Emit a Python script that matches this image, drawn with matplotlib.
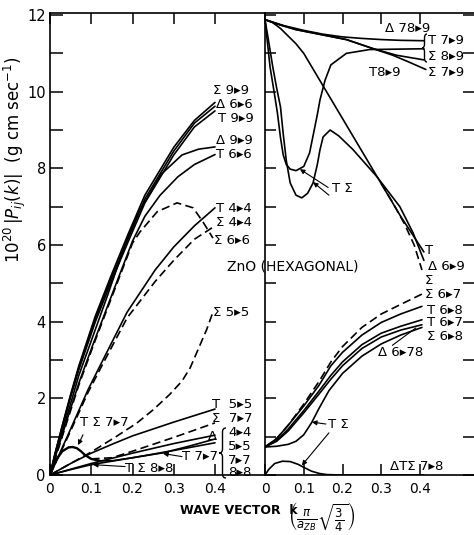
import matplotlib
matplotlib.use('Agg')
import matplotlib.pyplot as plt
from matplotlib.path import Path
from matplotlib.patches import PathPatch

plt.rcParams['font.family'] = ['DejaVu Sans']
plt.rcParams['mathtext.fontset'] = 'dejavusans'

# ---------------- data : left panel ----------------
up_x = [0, 0.012, 0.03, 0.05, 0.07, 0.11, 0.15, 0.19, 0.23, 0.30, 0.35, 0.40]
sig99_y = [0, 0.55, 1.30, 2.10, 2.85, 4.15, 5.25, 6.30, 7.30, 8.55, 9.25, 9.72]
del66_y = [0, 0.54, 1.28, 2.07, 2.80, 4.08, 5.17, 6.20, 7.20, 8.45, 9.18, 9.62]
t99_y = [0, 0.53, 1.25, 2.03, 2.75, 4.00, 5.08, 6.10, 7.10, 8.35, 9.08, 9.50]

del99_x = [0, 0.015, 0.04, 0.07, 0.10, 0.14, 0.18, 0.215, 0.27, 0.32, 0.36, 0.40]
del99_y = [0, 0.60, 1.50, 2.60, 3.50, 4.70, 5.95, 6.85, 7.85, 8.35, 8.50, 8.56]

t66_x = [0, 0.015, 0.04, 0.07, 0.104, 0.15, 0.20, 0.23, 0.267, 0.31, 0.35, 0.40]
t66_y = [0, 0.55, 1.40, 2.40, 3.40, 4.70, 6.10, 6.75, 7.30, 7.78, 8.10, 8.36]

sig66_x = [0, 0.015, 0.04, 0.07, 0.104, 0.15, 0.20, 0.218, 0.26, 0.308, 0.347, 0.371, 0.395]
sig66_y = [0, 0.50, 1.35, 2.35, 3.35, 4.65, 6.05, 6.34, 6.87, 7.10, 6.97, 6.60, 6.18]

t44_x = [0, 0.05, 0.092, 0.133, 0.187, 0.255, 0.30, 0.35, 0.40]
t44_y = [0, 1.20, 2.22, 3.10, 4.25, 5.35, 5.95, 6.50, 6.97]
sig44_y = [0, 1.15, 2.15, 3.00, 4.10, 5.05, 5.60, 6.15, 6.50]

sig55_x = [0, 0.05, 0.10, 0.16, 0.21, 0.25, 0.29, 0.32, 0.34, 0.36, 0.38, 0.395]
sig55_y = [0, 0.30, 0.60, 1.00, 1.35, 1.70, 2.10, 2.45, 2.80, 3.30, 3.80, 4.25]

t55_x = [0, 0.05, 0.10, 0.15, 0.20, 0.25, 0.30, 0.35, 0.40]
t55_y = [0, 0.30, 0.57, 0.80, 1.02, 1.20, 1.38, 1.55, 1.72]

ts77_x = [0, 0.015, 0.03, 0.045, 0.055, 0.065, 0.075, 0.085, 0.10, 0.12]
ts77_y = [0, 0.40, 0.62, 0.72, 0.73, 0.70, 0.62, 0.52, 0.42, 0.37]

sig77_x = [0.10, 0.15, 0.20, 0.25, 0.30, 0.35, 0.40]
sig77_y = [0.42, 0.45, 0.62, 0.80, 0.98, 1.17, 1.36]

t77_x = [0.12, 0.15, 0.20, 0.275, 0.34, 0.40]
t77_y = [0.37, 0.37, 0.45, 0.58, 0.76, 0.94]

del44_x = [0, 0.10, 0.20, 0.30, 0.40]
del44_y = [0, 0.30, 0.57, 0.82, 1.04]

ts88_x = [0, 0.05, 0.10, 0.15, 0.20, 0.30, 0.40]
ts88_y = [0, 0.14, 0.27, 0.36, 0.45, 0.64, 0.84]

# ---------------- data : right panel ----------------
a_x = [0, 0.05, 0.10, 0.15, 0.20, 0.25, 0.30, 0.35, 0.41]
a_y = [11.88, 11.72, 11.60, 11.50, 11.43, 11.39, 11.36, 11.34, 11.33]

b_x = [0, 0.04, 0.08, 0.14, 0.21, 0.28, 0.34, 0.41]
b_y = [11.88, 11.74, 11.62, 11.50, 11.36, 11.12, 10.95, 10.83]

b2_x = [0, 0.04, 0.08, 0.14, 0.21, 0.28, 0.33, 0.37, 0.415]
b2_y = [11.88, 11.74, 11.62, 11.50, 11.36, 11.12, 10.95, 10.78, 10.58]

e_x = [0, 0.004, 0.013, 0.025, 0.032, 0.04, 0.047, 0.055, 0.065, 0.08, 0.10,
       0.115, 0.125, 0.135, 0.142, 0.155, 0.17, 0.21, 0.27, 0.41]
e_y = [11.88, 11.5, 10.65, 9.9, 9.45, 8.8, 8.35, 8.1, 7.98, 7.94, 8.05,
       8.4, 8.9, 9.4, 9.79, 10.3, 10.7, 11.0, 11.1, 11.12]

f_x = [0, 0.008, 0.02, 0.03, 0.04, 0.047, 0.055, 0.065, 0.08, 0.095, 0.11, 0.124,
       0.135, 0.142, 0.15, 0.168, 0.19, 0.227, 0.289, 0.348, 0.382, 0.41]
f_y = [11.88, 11.4, 10.65, 10.1, 9.6, 8.9, 8.2, 7.62, 7.3, 7.23, 7.35, 7.62,
       8.1, 8.49, 8.82, 9.0, 8.85, 8.49, 7.78, 7.0, 6.32, 5.6]

g_x = [0, 0.02, 0.04, 0.06, 0.08, 0.10, 0.15, 0.20, 0.25, 0.30, 0.35, 0.41]
g_y = [11.88, 11.8, 11.65, 11.45, 11.25, 11.0, 10.15, 9.3, 8.45, 7.6, 6.75, 5.82]

s69_x = [0.30, 0.33, 0.36, 0.385, 0.405]
s69_y = [7.6, 7.1, 6.55, 6.0, 5.35]

low_x = [0, 0.03, 0.06, 0.10, 0.14, 0.17, 0.20, 0.25, 0.30, 0.35, 0.405]
s67_y = [0.73, 0.95, 1.30, 1.85, 2.45, 2.95, 3.35, 3.85, 4.20, 4.45, 4.72]
t68_y = [0.73, 0.95, 1.30, 1.80, 2.35, 2.85, 3.20, 3.65, 3.98, 4.20, 4.40]
t67_y = [0.73, 0.90, 1.20, 1.68, 2.20, 2.60, 2.95, 3.40, 3.70, 3.88, 4.05]
s68_y = [0.73, 0.88, 1.15, 1.62, 2.12, 2.50, 2.85, 3.30, 3.60, 3.78, 3.92]

knee_x = [0, 0.03, 0.06, 0.08, 0.10, 0.12, 0.14, 0.165, 0.20, 0.25, 0.30, 0.35, 0.405]
knee_y = [0.73, 0.75, 0.80, 0.88, 1.05, 1.36, 1.75, 2.20, 2.65, 3.10, 3.42, 3.65, 3.85]

hump_x = [0, 0.01, 0.025, 0.045, 0.065, 0.085, 0.10, 0.12, 0.14, 0.16, 0.20, 0.30, 0.41]
hump_y = [0, 0.15, 0.30, 0.36, 0.35, 0.28, 0.20, 0.10, 0.04, 0.01, 0.0, 0.0, 0.0]

xticks = [0, 0.1, 0.2, 0.3, 0.4]
xtick_labels = ['0', '0.1', '0.2', '0.3', '0.4']
yticks = [0, 2, 4, 6, 8, 10, 12]
ytick_labels = ['0', '2', '4', '6', '8', '10', '12']

# ---------------- layout ----------------
W, H = 474, 535
fig = plt.figure(figsize=(W / 100, H / 100), dpi=100)


def fx(px):
    return px / W


def fy(py):
    return 1 - py / H


y_top, y_bot = 13, 475
axL = fig.add_axes([fx(50), fy(y_bot), (265 - 50) / W, (y_bot - y_top) / H])
axR = fig.add_axes([fx(265), fy(y_bot), (474 - 265) / W, (y_bot - y_top) / H])

LW = 1.2
DASH = (0, (5, 2.6))
kw = dict(color='black', lw=LW, solid_capstyle='round')

# left panel curves
axL.plot(up_x, sig99_y, **kw)
axL.plot(up_x, del66_y, **kw)
axL.plot(up_x, t99_y, **kw)
axL.plot(del99_x, del99_y, **kw)
axL.plot(t66_x, t66_y, **kw)
axL.plot(sig66_x, sig66_y, color='black', lw=LW, ls=DASH)
axL.plot(t44_x, t44_y, **kw)
axL.plot(t44_x, sig44_y, color='black', lw=LW, ls=DASH)
axL.plot(sig55_x, sig55_y, color='black', lw=LW, ls=DASH)
axL.plot(t55_x, t55_y, **kw)
axL.plot(ts77_x, ts77_y, color='black', lw=1.7)
axL.plot(sig77_x, sig77_y, color='black', lw=LW, ls=DASH)
axL.plot(t77_x, t77_y, **kw)
axL.plot(del44_x, del44_y, **kw)
axL.plot(ts88_x, ts88_y, **kw)

# right panel curves
axR.plot(a_x, a_y, **kw)
axR.plot(b_x, b_y, **kw)
axR.plot(b2_x, b2_y, **kw)
axR.plot(e_x, e_y, **kw)
axR.plot(f_x, f_y, **kw)
axR.plot(g_x, g_y, **kw)
axR.plot(s69_x, s69_y, color='black', lw=LW, ls=DASH)
axR.plot(low_x, s67_y, color='black', lw=LW, ls=DASH)
axR.plot(low_x, t68_y, **kw)
axR.plot(low_x, t67_y, **kw)
axR.plot(low_x, s68_y, **kw)
axR.plot(knee_x, knee_y, **kw)
axR.plot(hump_x, hump_y, **kw)

ymax = (y_bot - y_top) / 38.33
for ax in (axL, axR):
    ax.set_ylim(0, ymax)
    ax.set_xticks(xticks)
    ax.set_xticklabels(xtick_labels, fontsize=10)
    for s in ax.spines.values():
        s.set_linewidth(1.2)
    ax.tick_params(axis='x', which='both', direction='in', top=True, bottom=True,
                   length=8, width=1.1, pad=5)

axL.set_xlim(0, (265 - 50) / 412.5)
axR.set_xlim(0, (474 - 265) / 387.5)

axL.set_yticks(yticks)
axL.set_yticklabels(ytick_labels, fontsize=10.5)
axL.set_yticks(range(1, 12, 2), minor=True)
axL.tick_params(axis='y', which='both', direction='in', left=True, right=False,
                length=9, width=1.1, pad=3)
axL.spines['right'].set_visible(False)

axR.set_yticks(range(0, 13))
axR.tick_params(axis='y', which='both', direction='in', left=True, right=True,
                labelleft=False, length=8, width=1.1)
axR.spines['right'].set_visible(False)

# ---------------- text labels ----------------
A = '\u25B8'
FS = 9.5


def lab(s, px, py, size=FS, **k):
    fig.text(fx(px), fy(py), s, fontsize=size, va='center', ha='left', **k)


def brace(px, top, bot, w):
    xm = px + w / 2
    mid = (top + bot) / 2
    r = min(4, (bot - top) / 6)
    pts = [(px + w, top), (xm, top), (xm, top + r), (xm, mid - r), (xm, mid), (px, mid),
           (xm, mid), (xm, mid + r), (xm, bot - r), (xm, bot), (px + w, bot)]
    codes = [Path.MOVETO, Path.CURVE3, Path.CURVE3, Path.LINETO, Path.CURVE3, Path.CURVE3,
             Path.CURVE3, Path.CURVE3, Path.LINETO, Path.CURVE3, Path.CURVE3]
    verts = [(fx(a), fy(b)) for a, b in pts]
    fig.add_artist(PathPatch(Path(verts, codes), transform=fig.transFigure,
                             fill=False, lw=1.0, color='black'))


left_labels = [
    ('\u03A3 9' + A + '9', 213, 91), ('\u0394 6' + A + '6', 216, 104),
    ('T 9' + A + '9', 218, 118), ('\u0394 9' + A + '9', 216, 140),
    ('T 6' + A + '6', 216, 155), ('T 4' + A + '4', 216, 208),
    ('\u03A3 4' + A + '4', 216, 223), ('\u03A3 6' + A + '6', 214, 240),
    ('\u03A3 5' + A + '5', 213, 313), ('T  5' + A + '5', 212, 404),
    ('\u03A3  7' + A + '7', 212, 419), ('\u0394', 208, 436),
    ('4' + A + '4', 228, 433), ('5' + A + '5', 228, 447),
    ('7' + A + '7', 228, 460), ('8' + A + '8', 228, 473),
    ('T \u03A3 7' + A + '7', 80, 422), ('T 7' + A + '7', 182, 457),
    ('T \u03A3 8' + A + '8', 125, 468),
]
for s, px, py in left_labels:
    lab(s, px, py)
brace(219, 428, 478, 7)

right_labels = [
    ('\u0394 78' + A + '9', 385, 28), ('T 7' + A + '9', 428, 41),
    ('\u03A3 8' + A + '9', 428, 56), ('T8' + A + '9', 369, 73),
    ('\u03A3 7' + A + '9', 428, 73), ('T \u03A3', 332, 188),
    ('T', 425, 250), ('\u0394 6' + A + '9', 428, 267), ('\u03A3', 425, 281),
    ('\u03A3 6' + A + '7', 425, 295), ('T 6' + A + '8', 427, 310),
    ('T 6' + A + '7', 427, 323), ('\u03A3 6' + A + '8', 427, 337),
    ('\u0394 6' + A + '78', 378, 353), ('T \u03A3', 328, 425),
    ('\u0394T\u03A3 7' + A + '8', 390, 466),
]
for s, px, py in right_labels:
    lab(s, px, py)
brace(422, 34, 62, 5)

fig.text(fx(227), fy(267), 'ZnO (HEXAGONAL)', fontsize=10, va='center', ha='left')

# leader lines
ap = dict(arrowstyle='-|>', color='black', lw=0.8, mutation_scale=7, shrinkA=0, shrinkB=0)
axL.annotate('', xy=(0.068, 0.78), xytext=(0.08, 1.05), arrowprops=ap)
axL.annotate('', xy=(0.274, 0.56), xytext=(0.32, 0.48), arrowprops=ap)
axL.annotate('', xy=(0.104, 0.27), xytext=(0.182, 0.22), arrowprops=ap)
axR.annotate('', xy=(0.09, 7.98), xytext=(0.163, 7.5), arrowprops=ap)
axR.annotate('', xy=(0.124, 7.64), xytext=(0.165, 7.3), arrowprops=ap)
axR.annotate('', xy=(0.395, 3.88), xytext=(0.323, 3.34), arrowprops=dict(arrowstyle='-', lw=0.8))
axR.annotate('', xy=(0.121, 1.38), xytext=(0.157, 1.33), arrowprops=ap)
axR.annotate('', xy=(0.095, 0.25), xytext=(0.165, 1.1), arrowprops=ap)

# axis titles
fig.text(fx(15), fy(160), r'$10^{20}\,|P_{ij}(k)|$  (g cm sec$^{-1}$)', rotation=90,
         fontsize=12, va='center', ha='center')
fig.text(fx(180), fy(510), 'WAVE VECTOR  k', fontsize=9, fontweight='bold',
         va='center', ha='left')
fig.text(fx(288), fy(517), r'$\left(\frac{\pi}{a_{ZB}}\sqrt{\frac{3}{4}}\right)$',
         fontsize=12, va='center', ha='left')

fig.savefig('out.png', dpi=100)
